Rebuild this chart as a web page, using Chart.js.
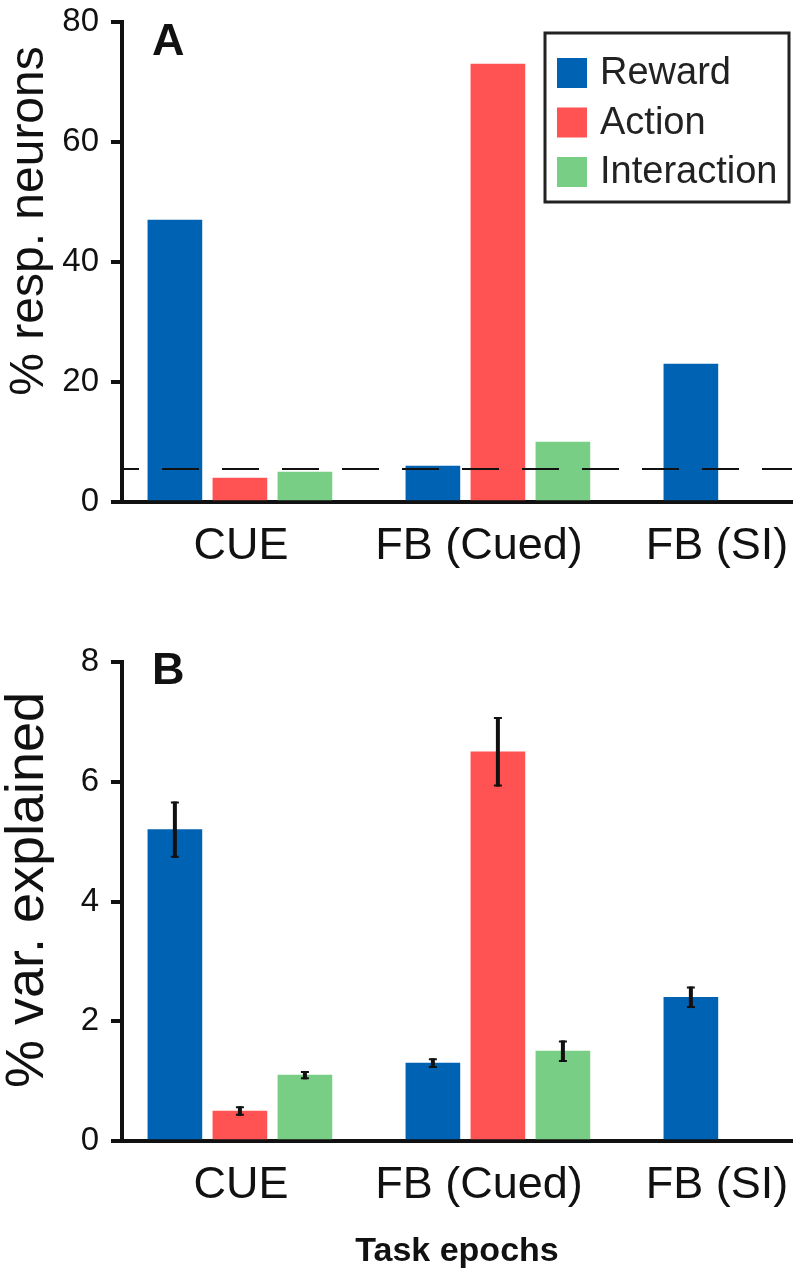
<!DOCTYPE html>
<html>
<head>
<meta charset="utf-8">
<script src="https://cdn.jsdelivr.net/npm/chart.js@4/dist/chart.umd.min.js"></script>
<style>
  html, body { margin: 0; padding: 0; background: #fff; overflow: hidden; }
  #wrap { position: relative; width: 797px; height: 1280px; }
  canvas { position: absolute; left: 0; }
  #chartA { top: 0; }
  #chartB { top: 600px; }
</style>
</head>
<body>
<div id="wrap">
  <canvas id="chartA" width="797" height="600"></canvas>
  <canvas id="chartB" width="797" height="680"></canvas>
</div>
<script>
// ---- data ----
const epochs = ['CUE', 'FB (Cued)', 'FB (SI)'];
const seriesNames = ['Reward', 'Action', 'Interaction'];

// panel A: % responsive neurons
const respReward = [47, 6, 23];
const respAction = [4, 73, null];
const respInteraction = [5, 10, null];
const chanceLevel = 5.5;
const respTicks = [0, 20, 40, 60, 80];

// panel B: % variance explained, mean and error
const varReward = [5.2, 1.3, 2.4];
const varAction = [0.5, 6.5, null];
const varInteraction = [1.1, 1.5, null];
const varRewardErr = [0.47, 0.08, 0.18];
const varActionErr = [0.08, 0.58, null];
const varInteractionErr = [0.07, 0.18, null];
const varTicks = [0, 2, 4, 6, 8];

// ---- style ----
const INK = '#111';
const colors = ['#0062b2', '#ff5353', '#79ce85'];
const FONT = "'Liberation Sans', Arial, Helvetica, sans-serif";
Chart.defaults.font.family = FONT;
Chart.defaults.color = INK;

// bars: group i centred on i (in category units), bars BAR_STEP apart.
// the epoch labels sit on their own, slightly tighter axis like in the figure
const BAR_STEP = 0.252;
const BAR_RANGE = [-0.457, 2.14];
const LABEL_RANGE = [-0.5, 2.315];

function makeSets(valueLists, errLists) {
  return valueLists.map((vals, s) => ({
    label: seriesNames[s],
    backgroundColor: colors[s],
    borderWidth: 0,
    grouped: false,
    barThickness: 54,
    data: vals
      .map((v, i) => v == null ? null : {
        x: i + (s - 1) * BAR_STEP,
        y: v,
        err: errLists ? errLists[s][i] : null
      })
      .filter(Boolean)
  }));
}

// error bars on top of the bars
const errorBars = {
  id: 'errorBars',
  afterDatasetsDraw(chart) {
    const { ctx } = chart;
    const y = chart.scales.y;
    ctx.save();
    ctx.strokeStyle = INK;
    chart.data.datasets.forEach((ds, di) => {
      const meta = chart.getDatasetMeta(di);
      ds.data.forEach((pt, j) => {
        if (pt.err == null) return;
        const x = meta.data[j].x;
        const top = y.getPixelForValue(pt.y + pt.err);
        const bot = y.getPixelForValue(pt.y - pt.err);
        ctx.lineWidth = 4;
        ctx.beginPath(); ctx.moveTo(x, top); ctx.lineTo(x, bot); ctx.stroke();
        ctx.lineWidth = 2;
        ctx.beginPath();
        ctx.moveTo(x - 4, top + 1); ctx.lineTo(x + 4, top + 1);
        ctx.moveTo(x - 4, bot - 1); ctx.lineTo(x + 4, bot - 1);
        ctx.stroke();
      });
    });
    ctx.restore();
  }
};

// dashed chance level line (panel A)
const chanceLine = {
  id: 'chanceLine',
  afterDatasetsDraw(chart, args, opts) {
    if (opts.value == null) return;
    const { ctx, chartArea } = chart;
    const yy = chart.scales.y.getPixelForValue(opts.value);
    ctx.save();
    ctx.strokeStyle = INK;
    ctx.lineWidth = 2;
    ctx.setLineDash([37, 23]);
    ctx.lineDashOffset = 22;
    ctx.beginPath();
    ctx.moveTo(chartArea.left + 2, yy);
    ctx.lineTo(chartArea.right, yy);
    ctx.stroke();
    ctx.restore();
  }
};

// boxed legend (panel A)
const boxLegend = {
  id: 'boxLegend',
  afterDraw(chart, args, opts) {
    if (!opts.show) return;
    const { ctx, chartArea } = chart;
    const left = chartArea.right - 247, top = chartArea.top + 11;
    const w = 244, h = 169;
    ctx.save();
    ctx.fillStyle = '#fff';
    ctx.fillRect(left, top, w, h);
    ctx.strokeStyle = '#222';
    ctx.lineWidth = 3;
    ctx.strokeRect(left, top, w, h);
    ctx.font = `38px ${FONT}`;
    ctx.textBaseline = 'middle';
    chart.data.datasets.forEach((ds, k) => {
      const cy = top + 40 + k * 49.5;
      ctx.fillStyle = ds.backgroundColor;
      ctx.fillRect(left + 12, cy - 15, 30, 30);
      ctx.fillStyle = '#222';
      ctx.fillText(ds.label, left + 55, cy + 1);
    });
    ctx.restore();
  }
};

// panel letter and rotated y title
const panelText = {
  id: 'panelText',
  afterDraw(chart, args, opts) {
    const { ctx } = chart;
    ctx.save();
    ctx.fillStyle = INK;
    ctx.font = `bold 45px ${FONT}`;
    ctx.textBaseline = 'alphabetic';
    ctx.fillText(opts.letter, 152, opts.letterY);
    ctx.translate(opts.titleX, opts.titleY);
    ctx.rotate(-Math.PI / 2);
    ctx.font = `${opts.titleSize}px ${FONT}`;
    ctx.textAlign = 'center';
    ctx.fillText(opts.title, 0, 0);
    ctx.restore();
  }
};

function makeOptions(cfg) {
  return {
    responsive: false,
    animation: false,
    layout: { padding: { top: cfg.top, right: 5, left: 0, bottom: 0 } },
    plugins: {
      legend: { display: false },
      tooltip: { enabled: false },
      chanceLine: { value: cfg.chance },
      boxLegend: { show: cfg.legend },
      panelText: cfg.text
    },
    scales: {
      x: {
        type: 'linear',
        display: false,
        min: BAR_RANGE[0],
        max: BAR_RANGE[1],
        offset: false,
        bounds: 'data'
      },
      xl: {
        type: 'linear',
        axis: 'x',
        position: 'bottom',
        min: LABEL_RANGE[0],
        max: LABEL_RANGE[1],
        offset: false,
        bounds: 'data',
        afterBuildTicks: s => { s.ticks = epochs.map((_, i) => ({ value: i })); },
        afterFit: s => { s.height = cfg.xHeight; s.paddingLeft = 0; s.paddingRight = 0; },
        grid: { display: false, offset: false },
        border: { display: true, width: 4, color: INK },
        ticks: {
          callback: v => epochs[Math.round(v)],
          font: { size: 45 },
          color: INK,
          padding: 10,
          maxRotation: 0,
          autoSkip: false
        },
        title: cfg.xTitle
          ? { display: true, text: cfg.xTitle, font: { size: 34, weight: 'bold' }, color: INK, padding: { top: 0, bottom: 8 } }
          : { display: false }
      },
      y: {
        min: cfg.ticks[0],
        max: cfg.ticks[cfg.ticks.length - 1],
        afterBuildTicks: s => { s.ticks = cfg.ticks.map(v => ({ value: v })); },
        afterFit: s => { s.width = 122; s.paddingTop = 0; s.paddingBottom = 0; },
        grid: { drawOnChartArea: false, drawTicks: true, tickLength: 11, lineWidth: 4, color: INK },
        border: { display: true, width: 4, color: INK },
        ticks: { font: { size: 33 }, color: INK, padding: 12 }
      }
    }
  };
}

new Chart(document.getElementById('chartA'), {
  type: 'bar',
  data: { datasets: makeSets([respReward, respAction, respInteraction]) },
  options: makeOptions({
    top: 22, xHeight: 98, ticks: respTicks, chance: chanceLevel, legend: true,
    text: { letter: 'A', letterY: 55, title: '% resp. neurons', titleX: 43, titleY: 221, titleSize: 48 }
  }),
  plugins: [errorBars, chanceLine, boxLegend, panelText]
});

new Chart(document.getElementById('chartB'), {
  type: 'bar',
  data: {
    datasets: makeSets(
      [varReward, varAction, varInteraction],
      [varRewardErr, varActionErr, varInteractionErr]
    )
  },
  options: makeOptions({
    top: 62, xHeight: 139, ticks: varTicks, chance: null, legend: false, xTitle: 'Task epochs',
    text: { letter: 'B', letterY: 84, title: '% var. explained', titleX: 43, titleY: 290, titleSize: 54 }
  }),
  plugins: [errorBars, chanceLine, boxLegend, panelText]
});
</script>
</body>
</html>
